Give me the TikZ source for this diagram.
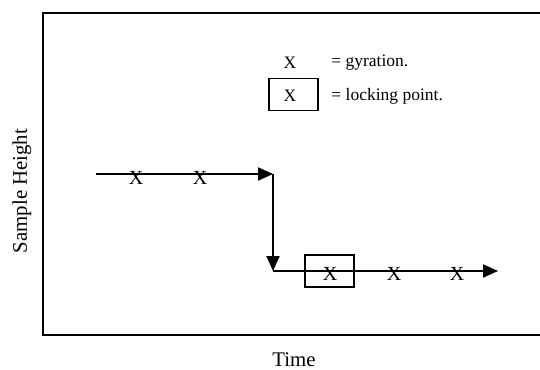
\documentclass[tikz,border=0pt]{standalone}
\usepackage{fontspec}
\setmainfont{Liberation Serif}
\usepackage{tikz}
\usetikzlibrary{arrows.meta,positioning,calc}

\begin{document}
\begin{tikzpicture}[x=0.5pt,y=-0.5pt,
    font=\fontsize{8.75}{10}\selectfont,
    axislab/.style={font=\fontsize{10.4}{12}\selectfont},
    flow/.style={line width=1pt,-{Triangle[length=7.5pt,width=6.5pt]}},
    gyr/.style={inner sep=0pt},
    pathx/.style={inner sep=0pt,font=\fontsize{10}{12}\selectfont},
    lockpt/.style={draw,line width=0.9pt,minimum width=24.5pt,minimum height=16pt,inner sep=0pt}]
  \useasboundingbox (0,0) rectangle (540,369);
  % frame
  \draw[line width=0.9pt] (541,13) -- (43,13) -- (43,335) -- (541,335);
  \node[axislab,rotate=90] (ylab) at (22,191) {Sample Height};
  \node[axislab] (xlab) at (294,360) {Time};
  % legend
  \node[gyr] (keyx) at (290,63) {X};
  \node[anchor=west,inner sep=0pt] (keyg) at (331,63) {= gyration.};
  \node[lockpt] (keybox) at (293.5,94.5) {};
  \node[gyr] (keyl) at (290,96) {X};
  \node[anchor=west,inner sep=0pt] (keyt) at (331,96) {= locking point.};
  % path of the sample
  \coordinate (start) at (96,174);
  \coordinate (corner) at (273,174);
  \coordinate (drop) at (273,271);
  \coordinate (stop) at (498,271);
  \draw[flow] (start) -- (corner);
  \draw[flow] (corner) -- (drop);
  \draw[flow] (drop) -- (stop);
  \node[pathx] (g1) at (136,178) {X};
  \node[pathx] (g2) at (200,178) {X};
  \node[lockpt] (lock) at (329.5,271) {};
  \node[pathx] (g3) at (330,274) {X};
  \node[pathx] (g4) at (394,274) {X};
  \node[pathx] (g5) at (457,274) {X};
\end{tikzpicture}
\end{document}
